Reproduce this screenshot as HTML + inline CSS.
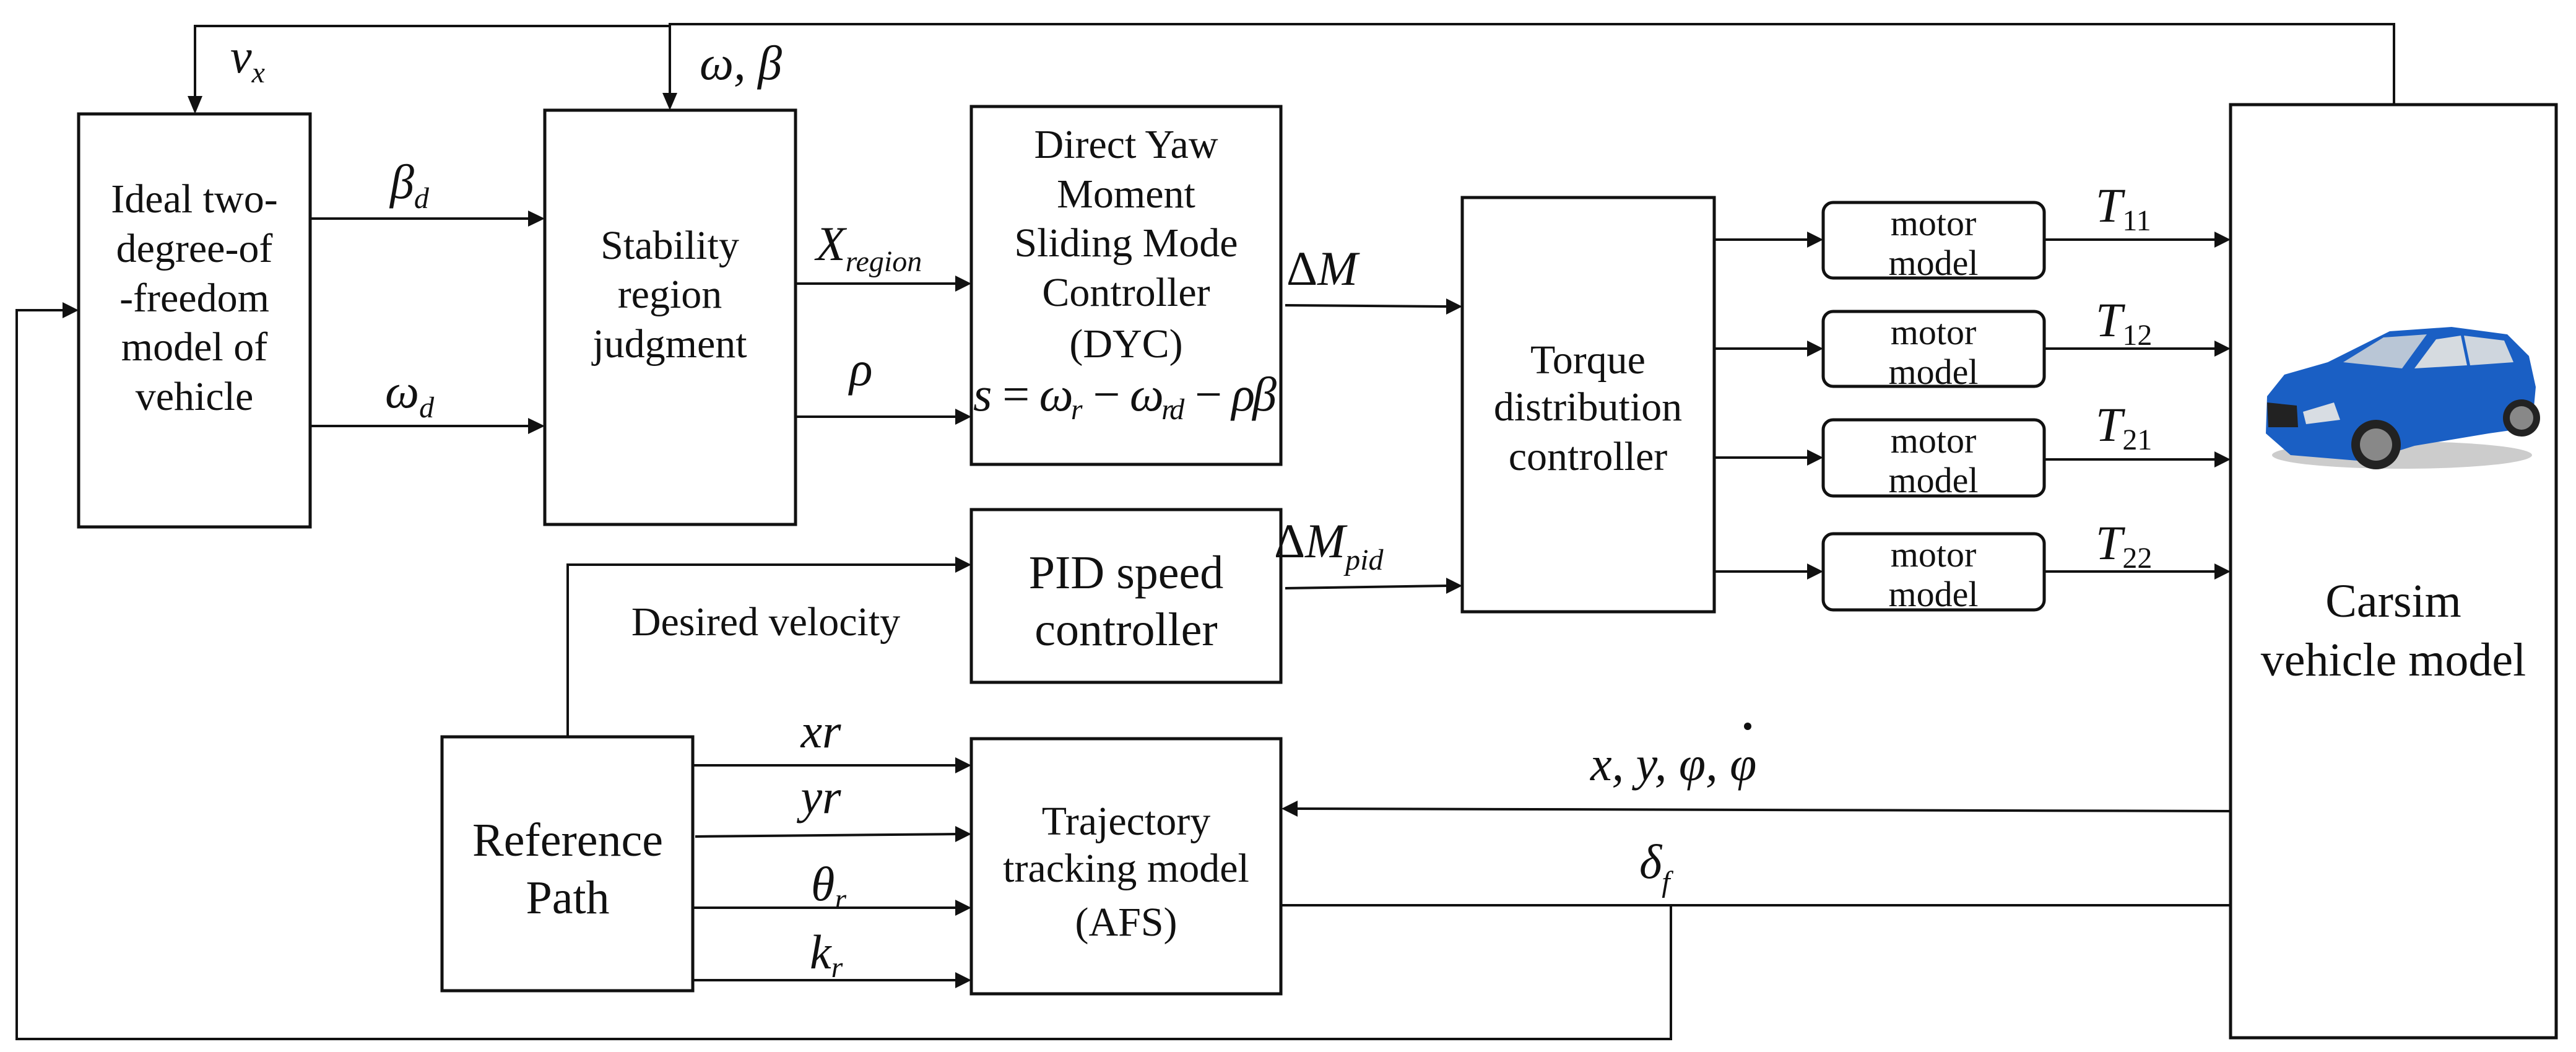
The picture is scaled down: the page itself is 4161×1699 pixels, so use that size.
<!DOCTYPE html>
<html><head><meta charset="utf-8"><style>
html,body{margin:0;padding:0;background:#fff;}
svg{display:block;}
text{font-family:"Liberation Serif",serif;fill:#111;}
.t{font-size:66px;text-anchor:middle;}
.m{font-size:58px;text-anchor:middle;}
.b{font-size:76px;text-anchor:middle;}
.i{font-style:italic;font-size:78px;}
.s{font-style:italic;font-size:48px;}
.u{font-style:normal;}
</style></head><body>
<svg width="4161" height="1699" viewBox="0 0 4161 1699" xmlns="http://www.w3.org/2000/svg">
<g fill="none" stroke="#111" stroke-width="5">
<rect x="127" y="184" width="374" height="667"/>
<rect x="880" y="178" width="405" height="669"/>
<rect x="1569" y="172" width="500" height="578"/>
<rect x="1569" y="823" width="500" height="279"/>
<rect x="2362" y="319" width="407" height="669"/>
<rect x="3603" y="169" width="526" height="1507"/>
<rect x="714" y="1190" width="405" height="410"/>
<rect x="1569" y="1193" width="500" height="412"/>
<rect x="2945" y="327" width="357" height="122" rx="16"/>
<rect x="2945" y="503" width="357" height="121" rx="16"/>
<rect x="2945" y="678" width="357" height="123" rx="16"/>
<rect x="2945" y="862" width="357" height="123" rx="16"/>
</g>
<g fill="none" stroke="#111" stroke-width="4">
<polyline points="3867,169 3867,39 1082,39 1082,155"/>
<polyline points="1082,42 315,42 315,160"/>
<polyline points="2699,1462 2699,1678 27,1678 27,501 104,501"/>
<line x1="2069" y1="1462" x2="3603" y2="1462"/>
<line x1="501" y1="353" x2="856" y2="353"/>
<line x1="501" y1="688" x2="856" y2="688"/>
<line x1="1285" y1="458" x2="1545" y2="458"/>
<line x1="1285" y1="673" x2="1545" y2="673"/>
<line x1="2076" y1="493" x2="2338" y2="495"/>
<line x1="2076" y1="950" x2="2338" y2="946"/>
<polyline points="917,1190 917,912 1545,912"/>
<line x1="1119" y1="1236" x2="1545" y2="1236"/>
<line x1="1123" y1="1351" x2="1545" y2="1347"/>
<line x1="1119" y1="1466" x2="1545" y2="1466"/>
<line x1="1119" y1="1583" x2="1545" y2="1583"/>
<line x1="3603" y1="1310" x2="2094" y2="1306"/>
<line x1="2769" y1="387" x2="2921" y2="387"/>
<line x1="2769" y1="563" x2="2921" y2="563"/>
<line x1="2769" y1="739" x2="2921" y2="739"/>
<line x1="2769" y1="923" x2="2921" y2="923"/>
<line x1="3302" y1="387" x2="3579" y2="387"/>
<line x1="3302" y1="563" x2="3579" y2="563"/>
<line x1="3302" y1="742" x2="3579" y2="742"/>
<line x1="3302" y1="923" x2="3579" y2="923"/>
</g>
<g fill="#111">
<polygon points="303,155 327,155 315,184"/>
<polygon points="1070,150 1094,150 1082,178"/>
<polygon points="101,488 101,514 127,501"/>
<polygon points="853,340 853,366 880,353"/>
<polygon points="853,675 853,701 880,688"/>
<polygon points="1543,445 1543,471 1569,458"/>
<polygon points="1543,660 1543,686 1569,673"/>
<polygon points="2336,482 2336,508 2362,495"/>
<polygon points="2336,933 2336,959 2362,946"/>
<polygon points="1543,899 1543,925 1569,912"/>
<polygon points="1543,1223 1543,1249 1569,1236"/>
<polygon points="1543,1334 1543,1360 1569,1347"/>
<polygon points="1543,1453 1543,1479 1569,1466"/>
<polygon points="1543,1570 1543,1596 1569,1583"/>
<polygon points="2096,1293 2096,1319 2070,1306"/>
<polygon points="2919,374 2919,400 2945,387"/>
<polygon points="2919,550 2919,576 2945,563"/>
<polygon points="2919,726 2919,752 2945,739"/>
<polygon points="2919,910 2919,936 2945,923"/>
<polygon points="3577,374 3577,400 3603,387"/>
<polygon points="3577,550 3577,576 3603,563"/>
<polygon points="3577,729 3577,755 3603,742"/>
<polygon points="3577,910 3577,936 3603,923"/>
</g>
<text class="t" x="314" y="343">Ideal two-</text>
<text class="t" x="314" y="423">degree-of</text>
<text class="t" x="314" y="503">-freedom</text>
<text class="t" x="314" y="582">model of</text>
<text class="t" x="314" y="662">vehicle</text>
<text class="t" x="1082" y="418">Stability</text>
<text class="t" x="1082" y="497">region</text>
<text class="t" x="1082" y="577">judgment</text>
<text class="t" x="1819" y="255">Direct Yaw</text>
<text class="t" x="1819" y="335">Moment</text>
<text class="t" x="1819" y="414">Sliding Mode</text>
<text class="t" x="1819" y="494">Controller</text>
<text class="t" x="1819" y="577">(DYC)</text>
<text x="1572" y="663" class="i" textLength="490">s = ω<tspan class="s" dy="14">r</tspan><tspan dy="-14"> − ω</tspan><tspan class="s" dy="14">rd</tspan><tspan dy="-14"> − ρβ</tspan></text>
<text class="t" x="2565" y="603">Torque</text>
<text class="t" x="2565" y="679">distribution</text>
<text class="t" x="2565" y="759">controller</text>
<text class="m" x="3123" y="380">motor</text>
<text class="m" x="3123" y="444">model</text>
<text class="m" x="3123" y="556">motor</text>
<text class="m" x="3123" y="620">model</text>
<text class="m" x="3123" y="731">motor</text>
<text class="m" x="3123" y="795">model</text>
<text class="m" x="3123" y="915">motor</text>
<text class="m" x="3123" y="979">model</text>
<text class="b" x="1819" y="950">PID speed</text>
<text class="b" x="1819" y="1042">controller</text>
<text class="t" x="1237" y="1026">Desired velocity</text>
<text class="b" x="917" y="1382">Reference</text>
<text class="b" x="917" y="1475">Path</text>
<text class="t" x="1819" y="1348">Trajectory</text>
<text class="t" x="1819" y="1424">tracking model</text>
<text class="t" x="1819" y="1511">(AFS)</text>
<text class="b" x="3866" y="996">Carsim</text>
<text class="b" x="3866" y="1091">vehicle model</text>
<text class="i" x="372" y="117">v<tspan class="s" dy="16">x</tspan></text>
<text class="i" x="1130" y="128">ω, β</text>
<text class="i" x="630" y="320">β<tspan class="s" dy="16">d</tspan></text>
<text class="i" x="622" y="658">ω<tspan class="s" dy="16">d</tspan></text>
<text class="i" x="1318" y="420">X<tspan class="s" dy="18">region</tspan></text>
<text class="i" x="1372" y="622">ρ</text>
<text class="i" x="2078" y="460"><tspan class="u">Δ</tspan>M</text>
<text class="i" x="2058" y="900"><tspan class="u">Δ</tspan>M<tspan class="s" dy="20">pid</tspan></text>
<text class="i" x="3385" y="358">T<tspan class="s u" dy="14">11</tspan></text>
<text class="i" x="3385" y="543">T<tspan class="s u" dy="14">12</tspan></text>
<text class="i" x="3385" y="712">T<tspan class="s u" dy="14">21</tspan></text>
<text class="i" x="3385" y="903">T<tspan class="s u" dy="14">22</tspan></text>
<text class="i" x="1326" y="1207" text-anchor="middle" font-size="60">xr</text>
<text class="i" x="1326" y="1313" text-anchor="middle" font-size="60">yr</text>
<text class="i" x="1310" y="1454" font-size="60">θ<tspan class="s" dy="14" font-size="40">r</tspan></text>
<text class="i" x="1308" y="1564" font-size="60">k<tspan class="s" dy="14" font-size="40">r</tspan></text>
<text class="i" x="2569" y="1260">x, y, φ, φ</text>
<circle cx="2823" cy="1173" r="6" fill="#111"/>
<text class="i" x="2648" y="1418">δ<tspan class="s" dy="22">f</tspan></text>
<g>
<ellipse cx="3880" cy="735" rx="210" ry="22" fill="#ccc"/>
<path d="M3660,700 L3662,640 L3690,605 L3760,585 L3810,560 L3860,535 L3960,528 L4050,540 L4085,575 L4096,625 L4090,690 L4020,700 L3900,720 L3820,745 L3700,735 Z" fill="#1a5fc4"/>
<path d="M3785,585 L3850,545 L3920,540 L3880,595 Z" fill="#b9c6d6"/>
<path d="M3900,595 L3935,548 L3975,542 L3985,590 Z" fill="#d6dbe0"/>
<path d="M3990,590 L3980,542 L4045,550 L4060,585 Z" fill="#cfd6de"/>
<path d="M3662,650 L3710,655 L3712,690 L3664,690 Z" fill="#222"/>
<path d="M3720,665 L3770,650 L3780,678 L3725,685 Z" fill="#d8dde3"/>
<circle cx="3838" cy="718" r="40" fill="#222"/>
<circle cx="3838" cy="718" r="26" fill="#888"/>
<circle cx="4073" cy="675" r="30" fill="#222"/>
<circle cx="4073" cy="675" r="19" fill="#888"/>
</g>
</svg>
</body></html>
